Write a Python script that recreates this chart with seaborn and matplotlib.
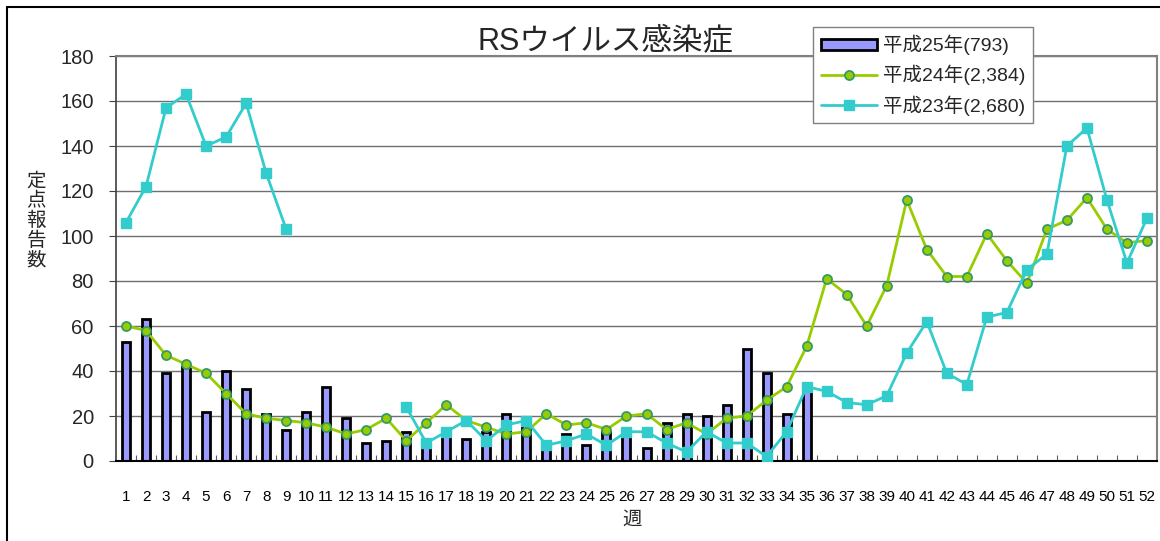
import numpy as np
import pandas as pd
import matplotlib
matplotlib.use('Agg')
import matplotlib.pyplot as plt
from matplotlib.lines import Line2D
import seaborn as sns

# weekly sentinel report counts (RS virus)
weeks = list(range(1, 53))
h25_weeks = list(range(1, 36))
h25 = [53, 63, 39, 42, 22, 40, 32, 21, 14, 22, 33, 19, 8, 9, 13, 7, 11, 10, 13, 21,
       16, 6, 12, 7, 13, 12, 6, 17, 21, 20, 25, 50, 39, 21, 33]
h24 = [60, 58, 47, 43, 39, 30, 21, 19, 18, 17, 15, 12, 14, 19, 9, 17, 25, 18, 15, 12,
       13, 21, 16, 17, 14, 20, 21, 14, 17, 12, 19, 20, 27, 33, 51, 81, 74, 60, 78, 116,
       94, 82, 82, 101, 89, 79, 103, 107, 117, 103, 97, 98]
h23 = [106, 122, 157, 163, 140, 144, 159, 128, 103, None, None, None, None, None, 24, 8,
       13, 18, 9, 16, 18, 7, 9, 12, 7, 13, 13, 8, 4, 13, 8, 8, 2, 13, 33, 31, 26, 25, 29,
       48, 62, 39, 34, 64, 66, 85, 92, 140, 148, 116, 88, 108]

label_25 = '平成25年(793)'
label_24 = '平成24年(2,384)'
label_23 = '平成23年(2,680)'
title = 'RSウイルス感染症'
ylabel = '定点報告数'
xlabel = '週'

sns.set_theme(style='white')
plt.rcParams['font.family'] = ['Liberation Sans', 'Noto Sans CJK JP']

W, H = 1160, 541
fig = plt.figure(figsize=(W / 100, H / 100), dpi=100)
ax = fig.add_axes([116 / W, 1 - 461 / H, (1157 - 116) / W, (461 - 56) / H])

bars = pd.DataFrame({'week': h25_weeks, 'count': h25})
sns.barplot(data=bars, x='week', y='count', native_scale=True, width=0.4,
            color='#9999FF', edgecolor='black', linewidth=2.0, saturation=1,
            ax=ax, zorder=2)

y24 = np.array(h24, dtype=float)
y23 = np.array([np.nan if v is None else v for v in h23], dtype=float)
ax.plot(weeks, y24, color='#99CC00', lw=2.0, marker='o', markersize=6.5,
        markerfacecolor='#99CC00', markeredgecolor='#339966', markeredgewidth=1.3,
        zorder=3)
ax.plot(weeks, y23, color='#33CCCC', lw=2.0, marker='s', markersize=7.5,
        markerfacecolor='#33CCCC', markeredgecolor='#33CCCC', zorder=4)

ax.set_xlim(0.5, 52.5)
ax.set_ylim(0, 180)
ax.set_yticks(range(0, 181, 20))
ax.set_xticks(weeks)
ax.set_xticklabels([str(w) for w in weeks])
ax.set_xticks(np.arange(1.5, 52.5, 1), minor=True)
ax.set_xlabel('')
ax.set_ylabel('')

ax.set_axisbelow(True)
ax.yaxis.grid(True, color='#707070', lw=1.0)
ax.xaxis.grid(False)

ax.tick_params(axis='x', which='major', length=0, pad=21, labelsize=11, colors='black')
ax.tick_params(axis='x', which='minor', direction='in', length=4, width=0.8,
               color='#606060', bottom=True)
ax.tick_params(axis='y', direction='out', length=5, width=0.8, color='#404040',
               pad=11, labelsize=14.5, left=True)

for side in ['top', 'right']:
    ax.spines[side].set_color('#808080')
    ax.spines[side].set_linewidth(1.5)
ax.spines['left'].set_color('#404040')
ax.spines['left'].set_linewidth(1.2)
ax.spines['bottom'].set_color('black')
ax.spines['bottom'].set_linewidth(1.5)

fig.text(605 / W, 1 - 42 / H, title, fontsize=22, ha='center', va='center')
fig.text(36 / W, 1 - 221 / H, '\n'.join(ylabel), fontsize=14, ha='center',
         va='center', linespacing=1.12)
fig.text(632 / W, 1 - 520 / H, xlabel, fontsize=14, ha='center', va='center')

handles = [
    plt.Rectangle((0, 0), 1, 1, facecolor='#9999FF', edgecolor='black', lw=2.0),
    Line2D([], [], color='#99CC00', lw=2.0, marker='o', markersize=6.5,
           markerfacecolor='#99CC00', markeredgecolor='#339966', markeredgewidth=1.3),
    Line2D([], [], color='#33CCCC', lw=2.0, marker='s', markersize=7.5,
           markerfacecolor='#33CCCC', markeredgecolor='#33CCCC'),
]
leg = fig.legend(handles, [label_25, label_24, label_23], loc='upper left',
                 bbox_to_anchor=(813 / W, 1 - 27 / H), fontsize=14, frameon=True,
                 fancybox=False, framealpha=1, edgecolor='#808080',
                 handlelength=2.9, handleheight=0.5, labelspacing=0.5,
                 borderpad=0.4, handletextpad=0.3, borderaxespad=0, numpoints=1)
leg.get_frame().set_linewidth(1.0)

# outer frame (left and top edges visible)
fig.add_artist(Line2D([7 / W, 7 / W], [0, 1 - 7 / H], color='black', lw=1.5,
                      transform=fig.transFigure))
fig.add_artist(Line2D([7 / W, 1], [1 - 7 / H, 1 - 7 / H], color='black', lw=1.5,
                      transform=fig.transFigure))

fig.savefig('out.png', dpi=100)
